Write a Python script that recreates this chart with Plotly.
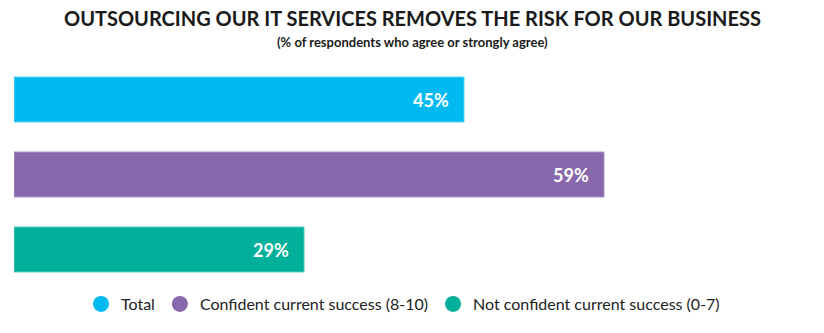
import plotly.graph_objects as go

categories = ["Total", "Confident current success (8-10)", "Not confident current success (0-7)"]
values = [45, 59, 29]
labels = ["45%", "59%", "29%"]
colors = ["#00B9F1", "#8768AD", "#00B09B"]
border_colors = ["#5fd3f6", "#a893c6", "#5ccbbd"]

title_text = "OUTSOURCING OUR IT SERVICES REMOVES THE RISK FOR OUR BUSINESS"
subtitle_text = "(% of respondents who agree or strongly agree)"

FONT = "Lato, 'Open Sans', sans-serif"
W, H = 824, 333
ML, MR, MT, MB = 14, 0, 62, 46
PH = H - MT - MB
PW = W - ML - MR


def py_to_paper(py):
    return (H - MB - py) / PH


def px_to_paper(px):
    return (px - ML) / PW


fig = go.Figure()
for cat, val, col, bcol in zip(categories, values, colors, border_colors):
    fig.add_trace(go.Bar(
        x=[val], y=[cat], orientation="h",
        marker=dict(color=col, line=dict(color=bcol, width=1)),
        width=0.6, showlegend=False, hoverinfo="skip",
    ))
    fig.add_trace(go.Scatter(
        x=[None], y=[None], mode="markers", name=cat,
        marker=dict(symbol="circle", size=17, color=col),
    ))

for cat, val, lab in zip(categories, values, labels):
    fig.add_annotation(
        x=val, y=cat, xref="x", yref="y", text=lab, showarrow=False,
        xanchor="right", yanchor="middle", xshift=-13,
        font=dict(family=FONT, size=18, color="white", weight="bold"),
    )

fig.add_annotation(
    x=px_to_paper(412), y=py_to_paper(18), xref="paper", yref="paper",
    text=title_text, showarrow=False, xanchor="center", yanchor="middle",
    font=dict(family=FONT, size=20, color="#1a1a1a", weight="bold"),
)
fig.add_annotation(
    x=px_to_paper(412), y=py_to_paper(42), xref="paper", yref="paper",
    text=subtitle_text, showarrow=False, xanchor="center", yanchor="middle",
    font=dict(family=FONT, size=13, color="#1a1a1a", weight="bold"),
)

fig.update_layout(
    width=W, height=H,
    margin=dict(l=ML, r=MR, t=MT, b=MB),
    paper_bgcolor="white", plot_bgcolor="white",
    barmode="overlay",
    xaxis=dict(range=[0, 81], visible=False, fixedrange=True),
    yaxis=dict(categoryorder="array", categoryarray=categories, autorange="reversed",
               visible=False, fixedrange=True),
    legend=dict(orientation="h", x=px_to_paper(403), xanchor="center", y=0.0, yanchor="top",
                font=dict(family=FONT, size=16, color="#222222"),
                itemsizing="trace", itemwidth=30, traceorder="normal"),
)

fig.write_html("out.html")
